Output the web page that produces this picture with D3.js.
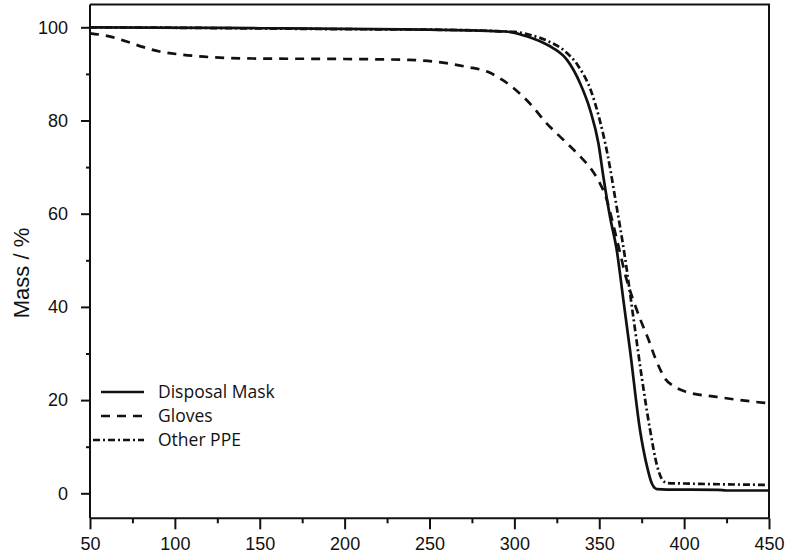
<!DOCTYPE html>
<html>
<head>
<meta charset="utf-8">
<script src="https://cdn.jsdelivr.net/npm/d3@7/dist/d3.min.js"></script>
<style>
  body { margin: 0; background: #fff; }
  svg { display: block; }
</style>
</head>
<body>
<div id="root"></div>
<script>
// temperature (x) and mass % (y)
var maskT = [50, 150, 250, 295, 305, 311, 317, 323, 331, 338.7, 344.6, 349.5, 352.4, 356.3, 360.3, 364.2, 368.1, 374, 378, 381, 384, 390, 420, 425, 450];
var maskM = [100, 99.8, 99.5, 99.1, 98.3, 97.6, 96.7, 95.5, 93, 88, 82.3, 75.1, 68, 59.4, 52.2, 41.5, 30.8, 13.6, 6, 2.1, 0.9, 0.8, 0.75, 0.6, 0.6];

var glovesT = [50, 62, 72, 81, 91, 105, 117, 146, 200, 238, 260, 272, 284, 293, 301, 309, 319, 329, 339, 345, 350, 354, 358, 362, 366, 370, 374, 379, 383, 386, 389, 393, 401, 419, 433, 450];
var glovesM = [98.7, 98, 96.9, 95.8, 94.8, 94.1, 93.7, 93.3, 93.2, 93, 92.3, 91.5, 90.5, 88.7, 86.5, 83.7, 79.4, 75.8, 72.2, 69.7, 66.8, 63.5, 58, 52, 46, 41.5, 37.5, 33, 29, 26.5, 24.5, 23.2, 21.8, 20.7, 20, 19.3];

var otherT = [50, 100, 200, 250, 300, 310, 320, 330, 338, 345, 350, 355, 360, 365, 370, 375, 380, 384, 387, 390, 400, 450];
var otherM = [100, 99.9, 99.6, 99.5, 99, 98.3, 97, 94.8, 91.5, 86.5, 80.5, 72.5, 62, 51, 38, 25, 13.5, 6, 3, 2.2, 2.1, 1.8];

var xTicks = [50, 100, 150, 200, 250, 300, 350, 400, 450];
var yTicks = [0, 20, 40, 60, 80, 100];
var legendNames = ['Disposal Mask', 'Gloves', 'Other PPE'];

var w = 787, h = 557;
var mLeft = 90, mRight = 769, mTop = 4.5, mBottom = 518.3;

var svg = d3.select('#root')
  .append('svg')
    .attr('width', w)
    .attr('height', h);

var x = d3.scaleLinear().domain([50, 450]).range([mLeft, mRight]);
var y = d3.scaleLinear().domain([0, 100]).range([493.3, 27.3]);

function zip(t, m) {
  return t.map(function (d, i) { return [d, m[i]]; });
}

var series = [
  { name: legendNames[0], data: zip(maskT, maskM), dash: null },
  { name: legendNames[1], data: zip(glovesT, glovesM), dash: '9,7' },
  { name: legendNames[2], data: zip(otherT, otherM), dash: '7,3,2,3' }
];

var line = d3.line()
  .x(function (d) { return x(d[0]); })
  .y(function (d) { return y(d[1]); })
  .curve(d3.curveMonotoneX);

svg.append('g')
  .selectAll('path')
    .data(series)
  .enter().append('path')
    .attr('d', function (d) { return line(d.data); })
    .attr('fill', 'none')
    .attr('stroke', '#111')
    .attr('stroke-width', 2.7)
    .attr('stroke-dasharray', function (d) { return d.dash; });

// frame
svg.append('path')
    .attr('d', 'M' + mLeft + ',' + mTop + 'H' + mRight + 'V' + mBottom)
    .attr('fill', 'none')
    .attr('stroke', '#111')
    .attr('stroke-width', 2);

// x axis
var xAxis = svg.append('g')
    .attr('transform', 'translate(0,' + mBottom + ')')
    .call(d3.axisBottom(x).tickValues(xTicks).tickSize(11).tickPadding(8));

svg.append('g')
    .attr('transform', 'translate(0,' + mBottom + ')')
    .call(d3.axisBottom(x).tickValues([75, 125, 175, 225, 275, 325, 375, 425]).tickSize(5).tickFormat(''))
    .select('.domain').remove();

// y axis
var yAxis = svg.append('g')
    .attr('transform', 'translate(' + mLeft + ',0)')
    .call(d3.axisLeft(y).tickValues(yTicks).tickSize(9).tickPadding(13));

svg.append('g')
    .attr('transform', 'translate(' + mLeft + ',0)')
    .call(d3.axisLeft(y).tickValues([10, 30, 50, 70, 90]).tickSize(4).tickFormat(''))
    .select('.domain').remove();

yAxis.select('.domain').attr('d', 'M0,' + mTop + 'V' + mBottom);
xAxis.select('.domain').attr('d', 'M' + mLeft + ',0H' + mRight);

svg.selectAll('.domain, .tick line')
    .attr('stroke', '#111')
    .attr('stroke-width', 2);

svg.selectAll('.tick text')
    .attr('fill', '#111')
    .style('font-family', 'Liberation Sans, Arial, sans-serif')
    .style('font-size', '18px');

svg.append('text')
    .attr('transform', 'translate(29,273) rotate(-90)')
    .attr('text-anchor', 'middle')
    .attr('fill', '#111')
    .style('font-family', 'Liberation Sans, Arial, sans-serif')
    .style('font-size', '22px')
    .text('Mass / %');

// legend
var legend = svg.append('g')
  .selectAll('g')
    .data(series)
  .enter().append('g')
    .attr('transform', function (d, i) {
      return 'translate(0,' + (392 + i * 24) + ')';
    });

legend.append('line')
    .attr('x1', function (d, i) { return i === 2 ? 93 : 101; })
    .attr('x2', 144)
    .attr('stroke', '#111')
    .attr('stroke-width', 2.5)
    .attr('stroke-dasharray', function (d) { return d.dash; });

legend.append('text')
    .attr('x', 158)
    .attr('dy', '0.35em')
    .attr('fill', '#111')
    .style('font-family', 'Open Sans, sans-serif')
    .style('font-size', '17.5px')
    .text(function (d) { return d.name; });
</script>
</body>
</html>
